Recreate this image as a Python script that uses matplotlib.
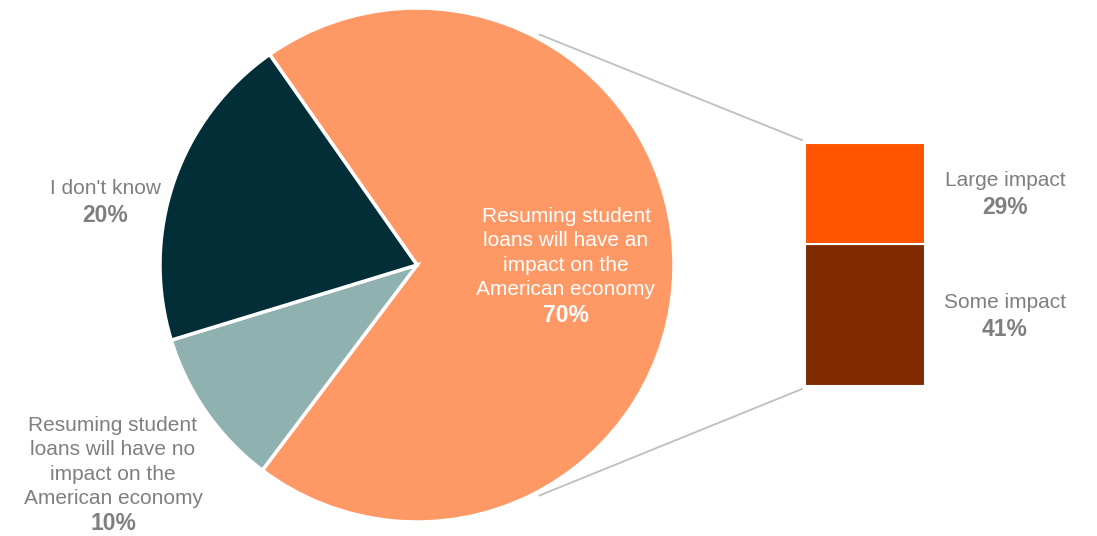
import numpy as np
import matplotlib.pyplot as plt

plt.rcParams['font.family'] = ['Liberation Sans', 'DejaVu Sans']

# main pie
pie_labels = ['Resuming student\nloans will have an\nimpact on the\nAmerican economy',
              'Resuming student\nloans will have no\nimpact on the\nAmerican economy',
              "I don't know"]
pie_values = [70, 10, 20]
pie_colors = ['#FE9966', '#8FB1B0', '#022E38']

# breakdown of the 70% slice
bar_labels = ['Some impact', 'Large impact']
bar_values = [41, 29]
bar_colors = ['#7F2A00', '#FF5500']

W, H = 1097, 536
fig = plt.figure(figsize=(W / 100, H / 100), dpi=100)
ax = fig.add_axes([0, 0, 1, 1])

cx, cy, r = 417, H - 265, 257
ax.pie(pie_values, colors=pie_colors, startangle=125, counterclock=False,
       center=(cx, cy), radius=r,
       wedgeprops=dict(edgecolor='white', linewidth=2.5))

ax.set_xlim(0, W)
ax.set_ylim(0, H)
ax.set_aspect('equal')
ax.axis('off')

# stacked bar
bx, bw = 865, 120
scale = 3.47
bottom = H - 386
for lab, v, c in zip(bar_labels, bar_values, bar_colors):
    ax.bar(bx, v * scale, width=bw, bottom=bottom, color=c,
           edgecolor='white', linewidth=1.5)
    bottom += v * scale
bar_top = bottom
bar_bot = H - 386

# connector lines
ang = np.deg2rad(62)
rr = r + 4
ax.plot([cx + rr * np.cos(ang), bx - bw / 2 - 3], [cy + rr * np.sin(ang), bar_top + 3],
        color='#BFBFBF', lw=1.3)
ax.plot([cx + rr * np.cos(ang), bx - bw / 2 - 3], [cy - rr * np.sin(ang), bar_bot - 3],
        color='#BFBFBF', lw=1.3)

gray = '#7F7F7F'
fs = 15


def label(x, y_text, y_pct, text, val, color):
    ax.text(x, H - y_text, text, ha='center', va='center', fontsize=fs,
            color=color, linespacing=1.34)
    ax.text(x, H - y_pct, f'{val}%', ha='center', va='center', fontsize=16.5,
            color=color, fontweight='bold')


label(566, 253, 316, pie_labels[0], pie_values[0], 'white')
label(113, 462, 524, pie_labels[1], pie_values[1], gray)
label(105, 188, 215, pie_labels[2], pie_values[2], gray)
label(1005, 181, 207, bar_labels[1], bar_values[1], gray)
label(1005, 303, 329, bar_labels[0], bar_values[0], gray)

fig.savefig('out.png', dpi=100)
